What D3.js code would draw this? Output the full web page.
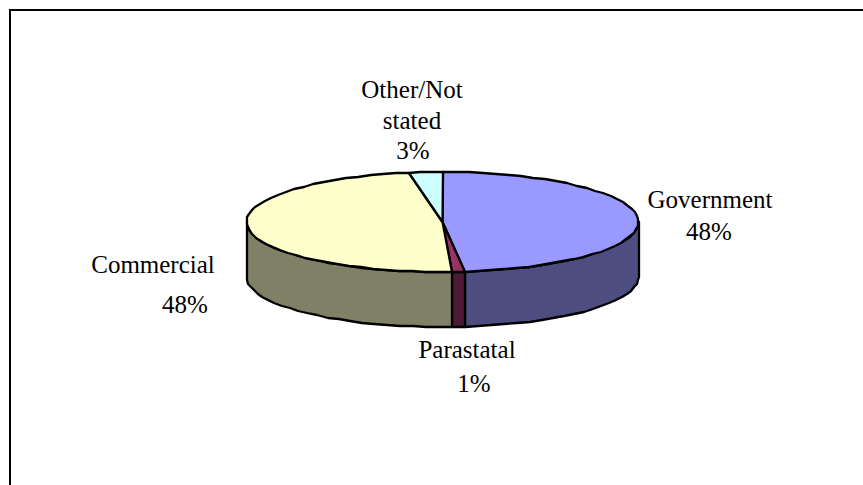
<!DOCTYPE html>
<html><head><meta charset="utf-8">
<script src="https://cdn.jsdelivr.net/npm/d3@7"></script>
<style>html,body{margin:0;padding:0;background:#fff}svg{display:block}
text{font-family:"Liberation Serif","Times New Roman",serif;fill:#000}</style>
</head><body><svg id="c" width="863" height="485"></svg>
<script>
const categories = ["Government","Parastatal","Commercial","Other/Not stated"];
const values = [48.2, 1.0, 48.1, 2.7];
const percentLabels = ["48%","1%","48%","3%"];
const topColors = ["#9999FF","#993366","#FFFFCC","#CCFFFF"];
const sideColors = ["#4D4D80","#4D1A33","#808066","#668080"];
const labelLines = [["Government","48%"],["Parastatal","1%"],["Commercial","48%"],["Other/Not","stated","3%"]];
const labelX = [[710,709],[467,474],[153,185],[412,412,413]];
const labelY = [[208,240],[358,392],[273,313],[98,129,159]];

const W=863,H=485,cx=442.5,cy=222,rx=196,ry=50,depth=55;
const svg=d3.select("#c");
const X=d3.scaleLinear([-1,1],[cx-rx,cx+rx]);
const Y=d3.scaleLinear([-1,1],[cy+ry,cy-ry]);
const pie=d3.pie().sort(null).value(d=>d)(values);
const pt=(a,dz=0)=>[Math.round(X(Math.sin(a))),Math.round(Y(Math.cos(a))+dz)];
const arcPts=(a0,a1,dz=0)=>{const n=Math.max(1,Math.ceil((a1-a0)/0.07));
  return d3.range(n+1).map(i=>pt(a0+(a1-a0)*i/n,dz));};
const line=d3.line();

// frame: only top and left edges fall inside the picture
svg.append("path").attr("d",line([[10,H],[10,10],[W,10]])).attr("fill","none").attr("stroke","#000").attr("stroke-width",2);

const g=svg.append("g").attr("stroke","#000").attr("stroke-width",2.3).attr("stroke-linejoin","round");
// walls (front half only)
pie.forEach((s,i)=>{
  const a0=Math.max(s.startAngle,Math.PI/2),a1=Math.min(s.endAngle,3*Math.PI/2);
  if(a1<=a0)return;
  const pts=arcPts(a0,a1).concat(arcPts(a0,a1,depth).reverse());
  g.append("path").attr("d",line(pts)+"Z").attr("fill",sideColors[i]);
});
// tops
pie.forEach((s,i)=>{
  const pts=[[cx,cy]].concat(arcPts(s.startAngle,s.endAngle));
  g.append("path").attr("d",line(pts)+"Z").attr("fill",topColors[i]);
});
// labels
categories.forEach((c,i)=>{
  labelLines[i].forEach((t,j)=>{
    svg.append("text").attr("x",labelX[i][j]).attr("y",labelY[i][j])
      .attr("text-anchor","middle").attr("font-size",25).text(t);
  });
});
</script></body></html>
